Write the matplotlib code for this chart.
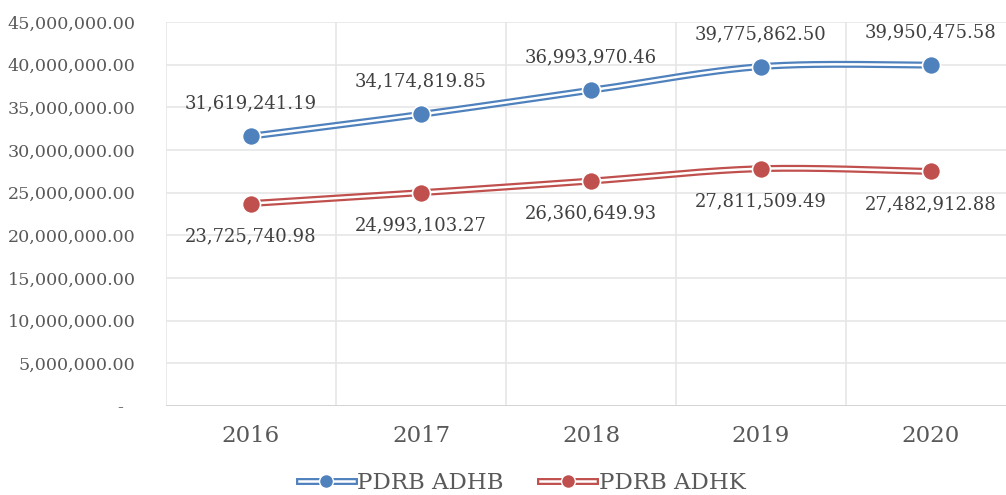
import numpy as np
import matplotlib
matplotlib.use("Agg")
import matplotlib.pyplot as plt
from matplotlib.lines import Line2D
from matplotlib.legend_handler import HandlerTuple
from matplotlib.ticker import FuncFormatter

years = ["2016", "2017", "2018", "2019", "2020"]
adhb = [31619241.19, 34174819.85, 36993970.46, 39775862.50, 39950475.58]
adhk = [23725740.98, 24993103.27, 26360649.93, 27811509.49, 27482912.88]
series_names = ["PDRB ADHB", "PDRB ADHK"]
colors = ["#4f81bd", "#c0504d"]

plt.rcParams['font.family'] = ['DejaVu Serif']
TXT = "#595959"

fig = plt.figure(figsize=(10.06, 4.95), dpi=100)
ax = fig.add_axes([166/1006, 89/495, 850/1006, 384/495])
x = np.arange(len(years))
ax.set_xlim(-0.5, len(years) - 0.5)
ax.set_ylim(0, 45e6)
ax.set_yticks(np.arange(0, 45e6 + 1, 5e6))
ax.yaxis.set_major_formatter(FuncFormatter(lambda v, p: "-  " if v == 0 else f"{v:,.2f}"))
ax.set_xticks(x)
ax.set_xticklabels(years)
ax.tick_params(axis='y', length=0, pad=22, labelsize=12.6, labelcolor=TXT)
ax.tick_params(axis='x', length=0, pad=14, labelsize=16.5, labelcolor=TXT)
for s in ax.spines.values():
    s.set_visible(False)
ax.grid(axis='y', color="#e6e6e6", lw=1.2)
for b in np.arange(-0.5, len(years), 1.0):
    ax.axvline(b, color="#e6e6e6", lw=1.2, zorder=0)
ax.axhline(0, color="#d0d0d0", lw=1.2, zorder=1)
ax.set_axisbelow(True)

def smooth(xs, ys, n=40):
    pts = ax.transData.transform(np.column_stack([xs, ys]))
    P = np.vstack([pts[0], pts, pts[-1]])
    out = []
    for i in range(1, len(P) - 2):
        p0, p1, p2, p3 = P[i-1], P[i], P[i+1], P[i+2]
        c1 = p1 + (p2 - p0) / 6.0
        c2 = p2 - (p3 - p1) / 6.0
        t = np.linspace(0, 1, n)[:, None]
        seg = (1-t)**3*p1 + 3*(1-t)**2*t*c1 + 3*(1-t)*t**2*c2 + t**3*p2
        out.append(seg if i == 1 else seg[1:])
    out = np.vstack(out)
    d = ax.transData.inverted().transform(out)
    return d[:, 0], d[:, 1]

handles = []
for vals, col, name, sign in [(adhb, colors[0], series_names[0], 1), (adhk, colors[1], series_names[1], -1)]:
    sx, sy = smooth(x, vals)
    ax.plot(sx, sy, color=col, lw=5.0, solid_capstyle='butt', zorder=3)
    ax.plot(sx, sy, color="white", lw=1.8, solid_capstyle='butt', zorder=4)
    ax.plot(x, vals, 'o', color=col, ms=13, mec="white", mew=1.2, zorder=5)
    for xi, v in zip(x, vals):
        ax.annotate(f"{v:,.2f}", (xi, v), xytext=(0, 17 * sign), textcoords='offset points',
                    ha='center', va='bottom' if sign > 0 else 'top', fontsize=13, color="#404040")
    h = (Line2D([], [], color=col, lw=5.0), Line2D([], [], color="white", lw=1.8),
         Line2D([], [], marker='o', ls='none', color=col, ms=10, mec='white', mew=1))
    handles.append(h)

fig.legend(handles, series_names, loc='lower center', bbox_to_anchor=(522/1006, -0.04), ncol=2,
           frameon=False, fontsize=16.5, labelcolor=TXT, handler_map={tuple: HandlerTuple(ndivide=1)},
           handlelength=2.4, handletextpad=0.15, columnspacing=1.6)

fig.savefig("out.png", dpi=100)
